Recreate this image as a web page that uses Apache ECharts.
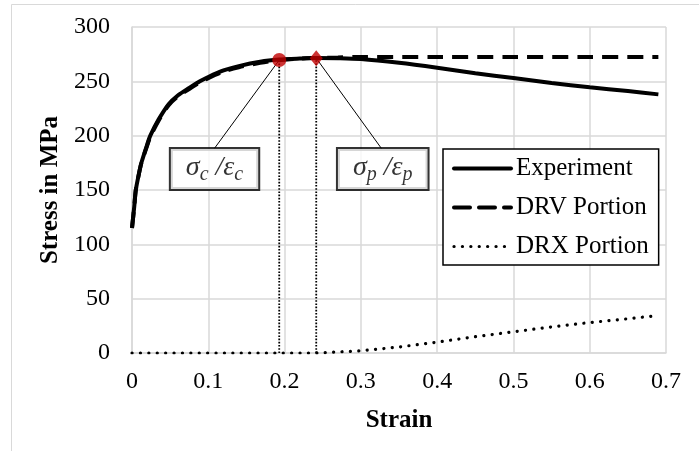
<!DOCTYPE html>
<html>
<head>
<meta charset="utf-8">
<script src="https://cdn.jsdelivr.net/npm/echarts@6/dist/echarts.min.js"></script>
<style>
  html, body { margin: 0; padding: 0; background: #fff; }
  #chart { width: 699px; height: 451px; }
</style>
</head>
<body>
<div id="chart"></div>
<script>
// values
const strain = [0, 0.003, 0.005, 0.01, 0.0127, 0.02, 0.024, 0.035, 0.048, 0.06, 0.075, 0.089, 0.1, 0.12, 0.14, 0.168, 0.193, 0.22, 0.2415, 0.27, 0.3, 0.35, 0.4, 0.45, 0.5, 0.55, 0.6, 0.65, 0.69];
const experiment = [115, 135, 150, 168, 176, 192, 200, 215, 229, 237, 244, 250, 254, 260, 264, 268, 270, 271, 271.5, 271.3, 270.5, 267, 262.5, 257.5, 253, 248.5, 244.5, 241, 238];

const drvStrain = [0, 0.003, 0.005, 0.01, 0.0127, 0.02, 0.024, 0.035, 0.048, 0.06, 0.075, 0.089, 0.1, 0.12, 0.14, 0.168, 0.193, 0.22, 0.2415, 0.27, 0.3, 0.4, 0.5, 0.6, 0.69];
const drv = [115, 135, 150, 168, 176, 191, 199, 214, 228, 236, 243, 249, 253, 259, 263, 267, 269.5, 271, 271.5, 272, 272.5, 272.5, 272.5, 272.5, 272.5];

const drxStrain = [0, 0.2415, 0.27, 0.3, 0.35, 0.4, 0.45, 0.5, 0.55, 0.6, 0.65, 0.69];
const drx = [0, 0, 1, 2, 5.5, 10, 15, 19.5, 24, 28, 31.5, 34.5];

// critical and peak points
const critical = [0.193, 269.6];
const peak = [0.2415, 271.3];

// annotation boxes (data position of box centre, and of box top)
const boxC = [0.1082, 169.3];
const boxP = [0.3287, 169.3];
const boxTop = 188.4;

const xTicks = { min: 0, max: 0.7, interval: 0.1 };
const yTicks = { min: 0, max: 300, interval: 50 };

const pairs = (xs, ys) => xs.map((x, i) => [x, ys[i]]);

const serif = 'Liberation Serif';
const chart = echarts.init(document.getElementById('chart'));

const boxLabel = (sub) => ({
    show: true,
    position: 'inside',
    formatter: '{a|σ}{b|' + sub + '}{a| /ε}{b|' + sub + '}',
    backgroundColor: '#fff',
    borderColor: '#000',
    borderWidth: 2,
    padding: [3, 15, 5, 15],
    rich: {
        a: { fontFamily: serif, fontStyle: 'italic', fontSize: 28, color: '#000', lineHeight: 32 },
        b: { fontFamily: serif, fontStyle: 'italic', fontSize: 20, color: '#000', padding: [13, 0, 0, 0], lineHeight: 32 }
    }
});

const hidden = { color: '#000', opacity: 0 };

chart.setOption({
    animation: false,
    backgroundColor: '#fff',
    graphic: [{
        type: 'rect',
        shape: { x: 11.5, y: 4.5, width: 720, height: 480 },
        style: { fill: null, stroke: '#d9d9d9', lineWidth: 1 },
        silent: true,
        z: -10
    }],
    grid: { left: 132, right: 33, top: 27, bottom: 98 },
    legend: {
        data: ['Experiment', 'DRV Portion', 'DRX Portion'],
        orient: 'vertical',
        left: 443,
        top: 149,
        itemWidth: 57,
        itemHeight: 14,
        itemGap: 14,
        itemTextGap: 5,
        padding: [7, 10, 6, 9],
        backgroundColor: '#fff',
        borderColor: '#000',
        borderWidth: 1.5,
        lineStyle: { width: 'inherit', cap: 'round' },
        textStyle: { fontFamily: serif, fontSize: 25, color: '#000' }
    },
    xAxis: {
        type: 'value',
        min: xTicks.min,
        max: xTicks.max,
        interval: xTicks.interval,
        name: 'Strain',
        nameLocation: 'middle',
        nameGap: 55,
        nameTextStyle: { fontFamily: serif, fontSize: 25, fontWeight: 'bold', color: '#000' },
        axisLine: { lineStyle: { color: '#d9d9d9', width: 1.5 } },
        axisTick: { show: false },
        axisLabel: { fontFamily: serif, fontSize: 24, color: '#000', margin: 17 },
        splitLine: { lineStyle: { color: '#d9d9d9', width: 1.5 } }
    },
    yAxis: {
        type: 'value',
        min: yTicks.min,
        max: yTicks.max,
        interval: yTicks.interval,
        name: 'Stress in MPa',
        nameLocation: 'middle',
        nameGap: 62,
        nameTextStyle: { fontFamily: serif, fontSize: 25, fontWeight: 'bold', color: '#000' },
        axisLine: { show: true, lineStyle: { color: '#d9d9d9', width: 1.5 } },
        axisTick: { show: false },
        axisLabel: { fontFamily: serif, fontSize: 24, color: '#000', margin: 22 },
        splitLine: { lineStyle: { color: '#d9d9d9', width: 1.5 } }
    },
    series: [
        {
            name: 'DRX Portion',
            type: 'line',
            data: pairs(drxStrain, drx),
            symbol: 'none',
            itemStyle: hidden,
            lineStyle: { color: '#000', width: 3.2, type: [0.1, 8.3], cap: 'round' },
            z: 3
        },
        {
            name: 'crit-line',
            type: 'line',
            data: [[critical[0], 0], critical],
            symbol: 'none',
            lineStyle: { color: '#000', width: 1.8, type: [1.6, 1.6] },
            z: 3
        },
        {
            name: 'peak-line',
            type: 'line',
            data: [[peak[0], 0], peak],
            symbol: 'none',
            lineStyle: { color: '#000', width: 1.8, type: [1.6, 1.6] },
            z: 3
        },
        {
            name: 'Experiment',
            type: 'line',
            data: pairs(strain, experiment),
            symbol: 'none',
            smooth: 0.3,
            itemStyle: hidden,
            lineStyle: { color: '#000', width: 4 },
            z: 4
        },
        {
            name: 'DRV Portion',
            type: 'line',
            data: pairs(drvStrain, drv),
            symbol: 'none',
            smooth: 0.3,
            itemStyle: hidden,
            lineStyle: { color: '#000', width: 4, type: [16, 9] },
            z: 4
        },
        {
            name: 'lead-c',
            type: 'line',
            data: [critical, [boxC[0], boxTop]],
            symbol: 'none',
            lineStyle: { color: '#000', width: 1 },
            z: 5
        },
        {
            name: 'lead-p',
            type: 'line',
            data: [peak, [0.3268, boxTop]],
            symbol: 'none',
            lineStyle: { color: '#000', width: 1 },
            z: 5
        },
        {
            name: 'box-c',
            type: 'scatter',
            data: [boxC],
            symbolSize: 0,
            label: boxLabel('c'),
            z: 6
        },
        {
            name: 'box-p',
            type: 'scatter',
            data: [boxP],
            symbolSize: 0,
            label: boxLabel('p'),
            z: 6
        },
        {
            name: 'critical',
            type: 'scatter',
            data: [critical],
            symbol: 'circle',
            symbolSize: 14,
            itemStyle: { color: '#c00000' },
            z: 7
        },
        {
            name: 'peak',
            type: 'scatter',
            data: [peak],
            symbol: 'diamond',
            symbolSize: [13, 16],
            itemStyle: { color: '#c00000' },
            z: 7
        }
    ]
});
</script>
</body>
</html>
